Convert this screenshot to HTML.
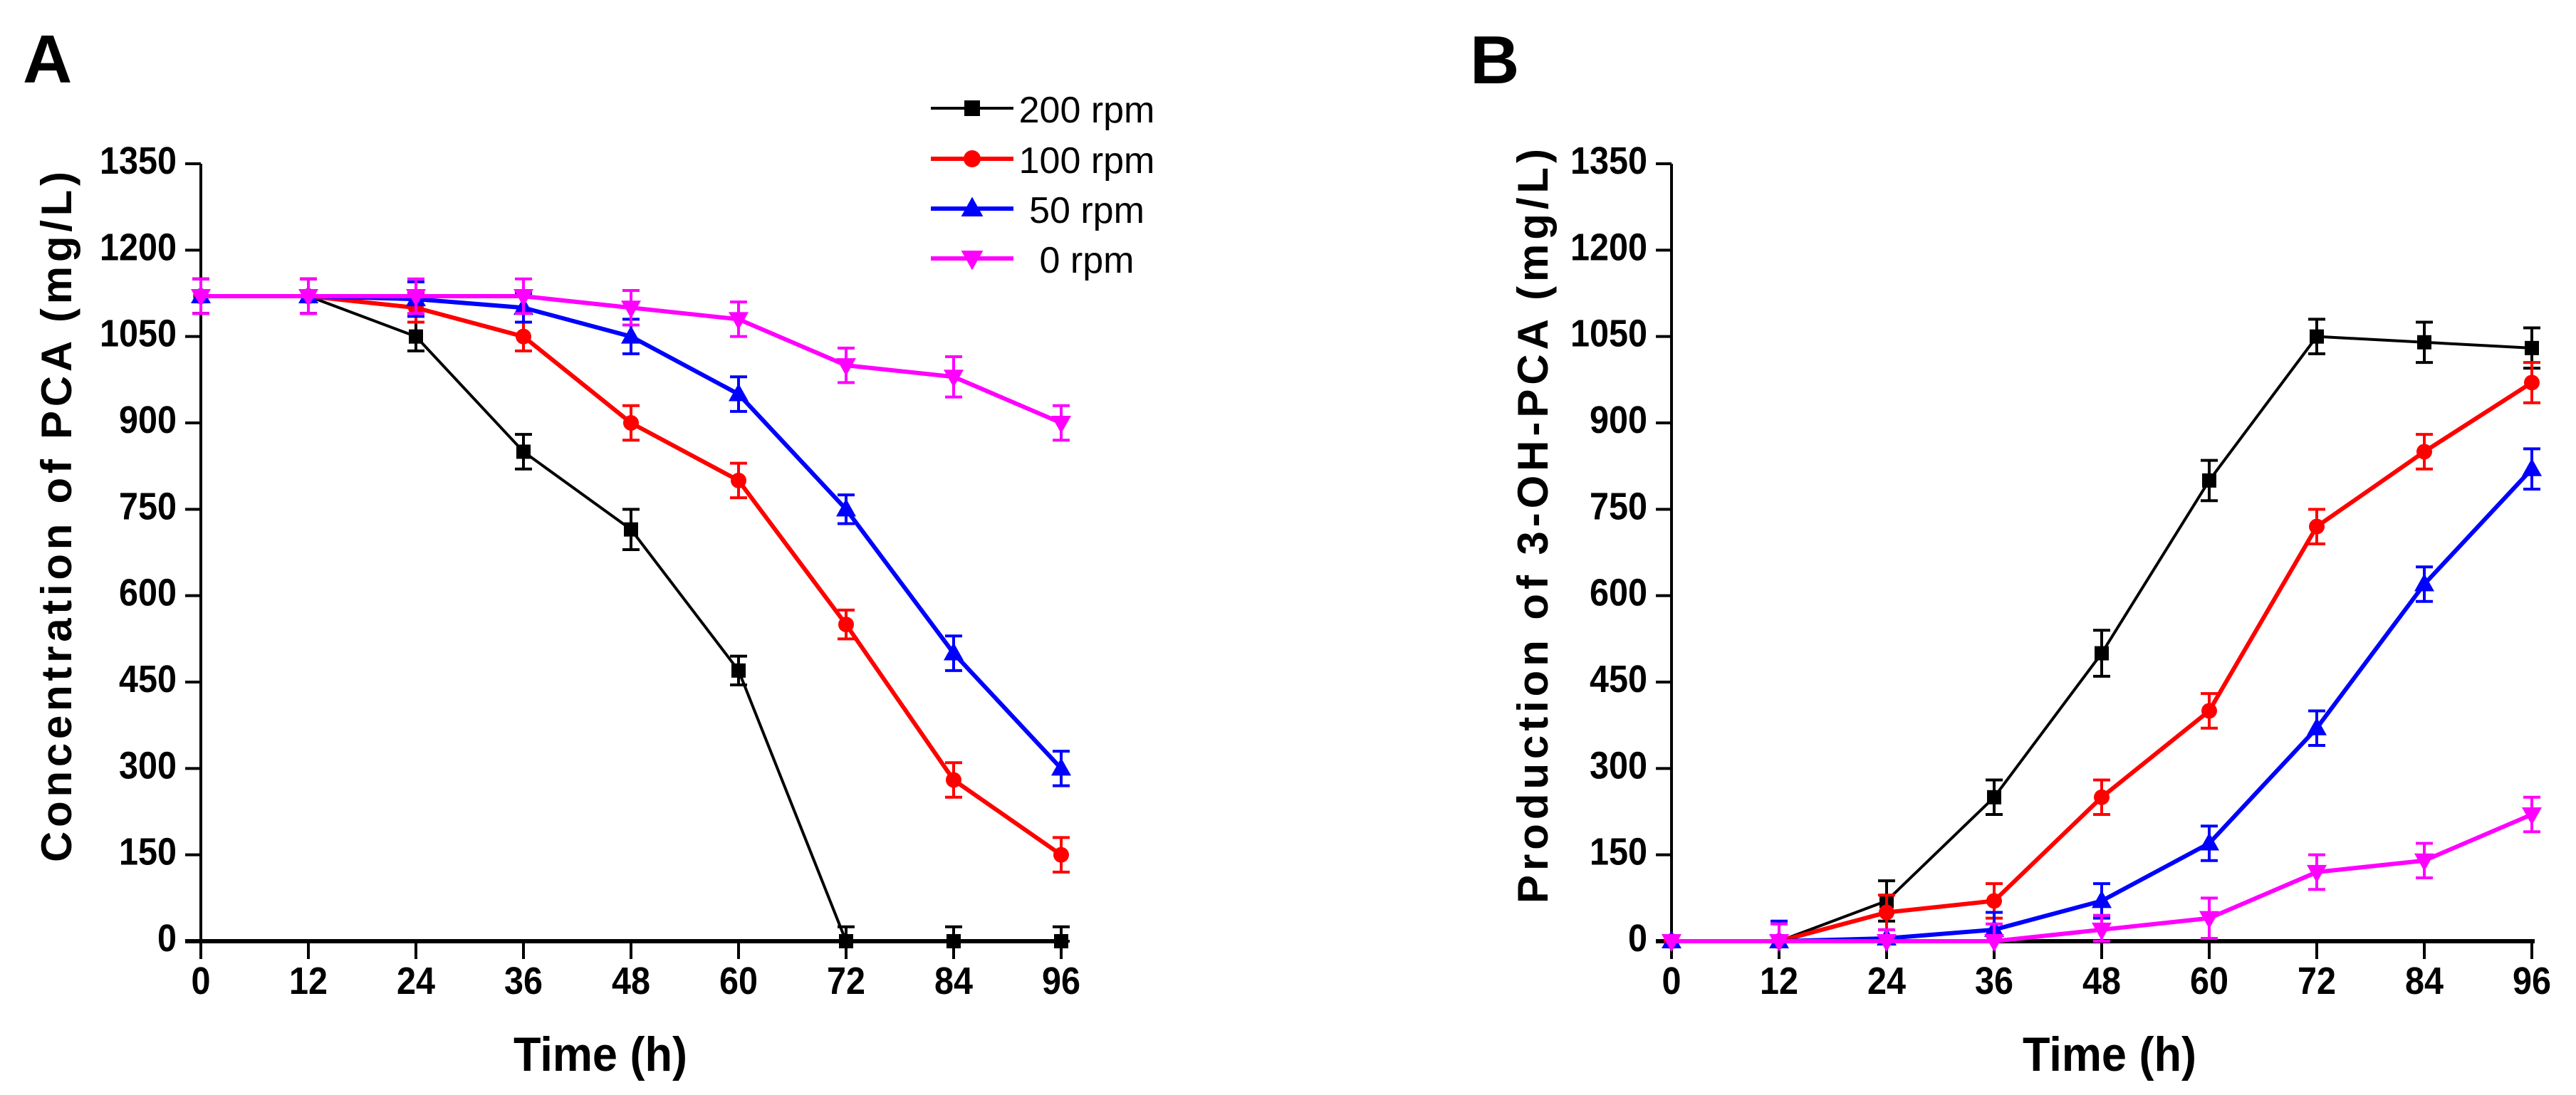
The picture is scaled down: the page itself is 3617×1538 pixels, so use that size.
<!DOCTYPE html>
<html><head><meta charset="utf-8"><style>
html,body{margin:0;padding:0;background:#fff;}
svg{display:block;}
text{font-family:"Liberation Sans",Arial,sans-serif;}
</style></head><body>
<svg id="fig" width="3617" height="1538" viewBox="0 0 3617 1538" xmlns="http://www.w3.org/2000/svg">
<rect width="3617" height="1538" fill="#fff"/>
<text x="32" y="116" font-size="96" font-weight="bold">A</text>
<text x="2064" y="117" font-size="96" font-weight="bold">B</text>
<g id="panelA"></g>
<g id="panelB"></g>
<g id="legend"></g>
</svg>
<script>
const timePoints = [0, 12, 24, 36, 48, 60, 72, 84, 96];
const xTicks = [0, 12, 24, 36, 48, 60, 72, 84, 96];
const yTicks = [0, 150, 300, 450, 600, 750, 900, 1050, 1200, 1350];
const seriesNames = ["200 rpm", "100 rpm", "50 rpm", "0 rpm"];
const seriesColors = ["#000000", "#ff0000", "#0000ff", "#ff00ff"];
const seriesMarkers = ["square", "circle", "triangle", "invtriangle"];
// Panel A: concentration of PCA
const pca200 = [1120, 1120, 1050, 850, 715, 470, 0, 0, 0];
const pca100 = [1120, 1120, 1100, 1050, 900, 800, 550, 280, 150];
const pca50 = [1120, 1120, 1115, 1100, 1050, 950, 750, 500, 300];
const pca0 = [1120, 1120, 1120, 1120, 1100, 1080, 1000, 980, 900];
const pcaErr200 = [30, 30, 25, 30, 35, 25, 25, 25, 25];
const pcaErr100 = [30, 30, 25, 25, 30, 30, 25, 30, 30];
const pcaErr50 = [30, 30, 30, 25, 30, 30, 25, 30, 30];
const pcaErr0 = [30, 30, 30, 30, 30, 30, 30, 35, 30];
// Panel B: production of 3-OH-PCA
const oh200 = [0, 0, 70, 250, 500, 800, 1050, 1040, 1030];
const oh100 = [0, 0, 50, 70, 250, 400, 720, 850, 970];
const oh50 = [0, 0, 5, 20, 70, 170, 370, 620, 820];
const oh0 = [0, 0, 0, 0, 20, 40, 120, 140, 220];
const ohErr200 = [0, 0, 35, 30, 40, 35, 30, 35, 35];
const ohErr100 = [0, 0, 30, 30, 30, 30, 30, 30, 35];
const ohErr50 = [0, 35, 0, 30, 30, 30, 30, 30, 35];
const ohErr0 = [0, 30, 20, 30, 25, 35, 30, 30, 30];

const NS = "http://www.w3.org/2000/svg";
function mk(tag, attrs, parent) {
  const e = document.createElementNS(NS, tag);
  for (const k in attrs) e.setAttribute(k, attrs[k]);
  parent.appendChild(e);
  return e;
}
function marker(g, type, cx, cy, color, s) {
  let m;
  if (type === "square") m = mk("rect", {x: cx - s/2, y: cy - s/2, width: s, height: s, fill: color}, g);
  else if (type === "circle") m = mk("circle", {cx: cx, cy: cy, r: s/2 + 1, fill: color}, g);
  else if (type === "triangle") m = mk("polygon", {points: `${cx},${cy - s*0.75} ${cx - s*0.7},${cy + s*0.5} ${cx + s*0.7},${cy + s*0.5}`, fill: color}, g);
  else m = mk("polygon", {points: `${cx},${cy + s*0.75} ${cx - s*0.7},${cy - s*0.5} ${cx + s*0.7},${cy - s*0.5}`, fill: color}, g);
  return m;
}

function drawPanel(g, x0, series, errs, title, titleLen, titleMid, timeMid) {
  const y0 = 1322, yTop = 230, xStep = 151;
  const xs = v => x0 + v / 12 * xStep;
  const ys = v => y0 - v / 1350 * (y0 - yTop);
  // y axis
  const yAxis = mk("line", {x1: x0, y1: yTop, x2: x0, y2: y0 + 25, stroke: "#000", "stroke-width": 4}, g);
  
  
  yTicks.forEach(v => {
    const t = mk("line", {x1: x0 - 22, y1: ys(v), x2: x0, y2: ys(v), stroke: "#000", "stroke-width": 4}, g);
    
    
    const s = String(v);
    const lab = mk("text", {x: x0 - 34, y: ys(v) + 14, "text-anchor": "end", "font-size": 54, "font-weight": "bold", textLength: s.length * 27, lengthAdjust: "spacingAndGlyphs"}, g);
    lab.textContent = s;
    
    
  });
  // x axis
  const xAxis = mk("line", {x1: x0 - 22, y1: y0, x2: xs(96) + 4, y2: y0, stroke: "#000", "stroke-width": 6}, g);
  
  
  xTicks.forEach(v => {
    const t = mk("line", {x1: xs(v), y1: y0, x2: xs(v), y2: y0 + 25, stroke: "#000", "stroke-width": 4}, g);
    
    
    const s = String(v);
    const lab = mk("text", {x: xs(v), y: 1396, "text-anchor": "middle", "font-size": 54, "font-weight": "bold", textLength: s.length * 27, lengthAdjust: "spacingAndGlyphs"}, g);
    lab.textContent = s;
    
    
  });
  const xt = mk("text", {x: timeMid, y: 1504, "text-anchor": "middle", "font-size": 68, "font-weight": "bold", textLength: 244, lengthAdjust: "spacingAndGlyphs"}, g);
  xt.textContent = "Time (h)";
  
  
  const yt = mk("text", {x: 0, y: 0, transform: `translate(${titleMid[0]},${titleMid[1]}) rotate(-90)`, "text-anchor": "middle", "font-size": 60, "font-weight": "bold", textLength: titleLen, lengthAdjust: "spacing"}, g);
  yt.textContent = title;
  
  
  // series
  series.forEach((vals, si) => {
    const color = seriesColors[si];
    const sg = mk("g", {}, g);
    
    
    const pts = vals.map((v, i) => xs(timePoints[i]) + "," + ys(v)).join(" ");
    const pl = mk("polyline", {points: pts, fill: "none", stroke: color, "stroke-width": si === 0 ? 4 : 6, "stroke-linejoin": "round"}, sg);
    
    
    vals.forEach((v, i) => {
      const e = errs[si][i];
      const cx = xs(timePoints[i]);
      if (e > 0) {
        const hi = ys(v + e), lo = ys(Math.max(0, v - e));
        const eb = mk("path", {d: `M${cx},${hi}V${lo}M${cx - 12},${hi}H${cx + 12}M${cx - 12},${lo}H${cx + 12}`, stroke: color, "stroke-width": 4, fill: "none"}, sg);
        
        
      }
      const m = marker(sg, seriesMarkers[si], cx, ys(v), color, 20);
      
      
    });
  });
}

drawPanel(document.getElementById("panelA"), 282,
  [pca200, pca100, pca50, pca0], [pcaErr200, pcaErr100, pcaErr50, pcaErr0],
  "Concentration of PCA (mg/L)", 970, [100, 726], 843);
drawPanel(document.getElementById("panelB"), 2347,
  [oh200, oh100, oh50, oh0], [ohErr200, ohErr100, ohErr50, ohErr0],
  "Production of 3-OH-PCA (mg/L)", 1060, [2173, 739], 2962);

// legend
const lg = document.getElementById("legend");
const rowY = [152, 223, 293, 363];
seriesNames.forEach((n, i) => {
  const g = mk("g", {}, lg);
  
  
  mk("line", {x1: 1307, y1: rowY[i], x2: 1423, y2: rowY[i], stroke: seriesColors[i], "stroke-width": i === 0 ? 4 : 6}, g);
  marker(g, seriesMarkers[i], 1365, rowY[i], seriesColors[i], 22);
  const t = mk("text", {x: 1526, y: rowY[i] + 20, "text-anchor": "middle", "font-size": 52}, g);
  t.textContent = n;
  
  
});
</script>
</body></html>
